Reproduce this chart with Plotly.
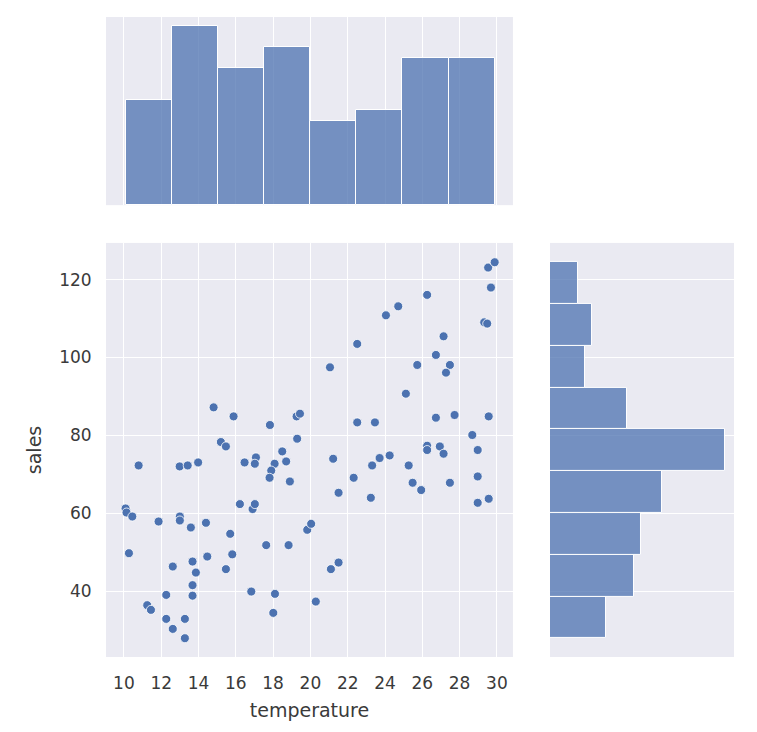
import numpy as np
import plotly.graph_objects as go

temperature = [
    14.81, 15.88, 17.83, 19.26, 19.44, 19.29, 15.20, 15.47, 10.79, 12.99,
    13.42, 13.98, 16.47, 17.08, 17.02, 18.49, 18.08, 18.70, 17.90, 17.81,
    18.90, 10.09, 10.14, 10.45, 11.86, 13.00, 13.00, 13.59, 14.40, 16.22,
    16.90, 17.02, 15.70, 10.27, 12.62, 13.68, 13.86, 14.47, 15.81, 15.47,
    17.63, 18.83, 13.68, 12.27, 13.68, 16.83, 18.10, 18.01, 11.25, 11.45,
    12.27, 13.27, 12.62, 13.27, 19.83, 20.04, 20.29,
    29.53, 29.88, 29.68, 29.32, 29.48, 26.26, 24.71, 24.05, 22.51, 27.14,
    26.73, 25.73, 27.48, 27.27, 21.05, 25.12, 22.51, 23.46, 26.73, 27.73,
    29.56, 28.68, 28.97, 26.26, 26.26, 26.94, 27.14, 21.22, 23.71, 24.25,
    23.31, 25.27, 22.32, 21.51, 23.24, 25.48, 25.94, 27.48, 28.97, 28.97,
    29.56, 21.10, 21.51,
]
sales = [
    87.21, 84.90, 82.69, 84.90, 85.59, 79.17, 78.32, 77.19, 72.31, 72.06,
    72.31, 73.08, 73.08, 74.37, 72.75, 75.91, 72.75, 73.34, 71.00, 69.15,
    68.20, 61.27, 60.24, 59.21, 57.93, 59.21, 58.19, 56.39, 57.60, 62.40,
    61.12, 62.40, 54.77, 49.80, 46.38, 47.66, 44.83, 48.94, 49.50, 45.71,
    51.87, 51.87, 41.60, 39.10, 38.90, 39.96, 39.37, 34.49, 36.46, 35.26,
    32.95, 32.95, 30.38, 27.99, 55.80, 57.34, 37.39,
    123.08, 124.44, 117.95, 109.03, 108.70, 116.07, 113.14, 110.83, 103.49, 105.44,
    100.66, 98.09, 98.09, 96.12, 97.48, 90.72, 83.35, 83.35, 84.56, 85.25,
    84.90, 80.12, 76.27, 77.37, 76.27, 77.19, 75.32, 74.03, 74.21, 74.88,
    72.31, 72.31, 69.15, 65.30, 64.02, 67.87, 66.00, 67.87, 69.49, 62.73,
    63.76, 45.71, 47.40,
]
x_ticks = [10, 12, 14, 16, 18, 20, 22, 24, 26, 28, 30]
y_ticks = [40, 60, 80, 100, 120]

blue = "#4c72b0"
bar_fill = "rgba(76,114,176,0.75)"
bg = "#eaeaf2"
txt = "#3a3a3a"

# marginal histograms, same binning as seaborn (auto -> 8 / 9 bins)
tcounts, tedges = np.histogram(temperature, bins=8)
scounts, sedges = np.histogram(sales, bins=9)

fig = go.Figure()

fig.add_trace(go.Scatter(
    x=temperature, y=sales, mode="markers",
    marker=dict(size=9, color=blue, line=dict(color="white", width=0.8)),
    xaxis="x", yaxis="y", showlegend=False,
))

fig.add_trace(go.Bar(
    x=(tedges[:-1] + tedges[1:]) / 2, y=tcounts, width=np.diff(tedges),
    marker=dict(color=bar_fill, line=dict(color="white", width=1)),
    xaxis="x2", yaxis="y2", showlegend=False,
))

fig.add_trace(go.Bar(
    y=(sedges[:-1] + sedges[1:]) / 2, x=scounts, width=np.diff(sedges),
    orientation="h",
    marker=dict(color=bar_fill, line=dict(color="white", width=1)),
    xaxis="x3", yaxis="y3", showlegend=False,
))

x_range = [9.04, 30.86]
y_range = [23.17, 129.4]
grid = dict(showgrid=True, gridcolor="white", gridwidth=1.2, zeroline=False,
            showline=False)
tick_font = dict(family="DejaVu Sans", size=17, color=txt)

# page body adds an 8px offset, so the figure is drawn 8px smaller
fig.update_layout(
    width=749, height=724,
    margin=dict(l=98, r=23, t=9, b=75),
    paper_bgcolor="white",
    plot_bgcolor=bg,
    bargap=0,
    font=dict(family="DejaVu Sans", color=txt),
    xaxis=dict(domain=[0, 0.648], range=x_range, tickvals=x_ticks,
               ticks="outside", ticklen=11, tickcolor="rgba(0,0,0,0)",
               tickfont=tick_font,
               title=dict(text="temperature", font=dict(size=19, color=txt), standoff=11),
               **grid),
    yaxis=dict(domain=[0, 0.647], range=y_range, tickvals=y_ticks,
               ticks="outside", ticklen=10, tickcolor="rgba(0,0,0,0)",
               tickfont=tick_font,
               title=dict(text="sales", font=dict(size=19, color=txt), standoff=12),
               **grid),
    xaxis2=dict(domain=[0, 0.648], range=x_range, tickvals=x_ticks,
                showticklabels=False, anchor="y2", **grid),
    yaxis2=dict(domain=[0.706, 1], range=[0, max(tcounts) * 1.05],
                showticklabels=False, anchor="x2", showgrid=False,
                zeroline=False),
    xaxis3=dict(domain=[0.707, 1], range=[0, max(scounts) * 1.05],
                showticklabels=False, anchor="y3", showgrid=False,
                zeroline=False),
    yaxis3=dict(domain=[0, 0.647], range=y_range, tickvals=y_ticks,
                showticklabels=False, anchor="x3", **grid),
)

fig.write_html("out.html")
